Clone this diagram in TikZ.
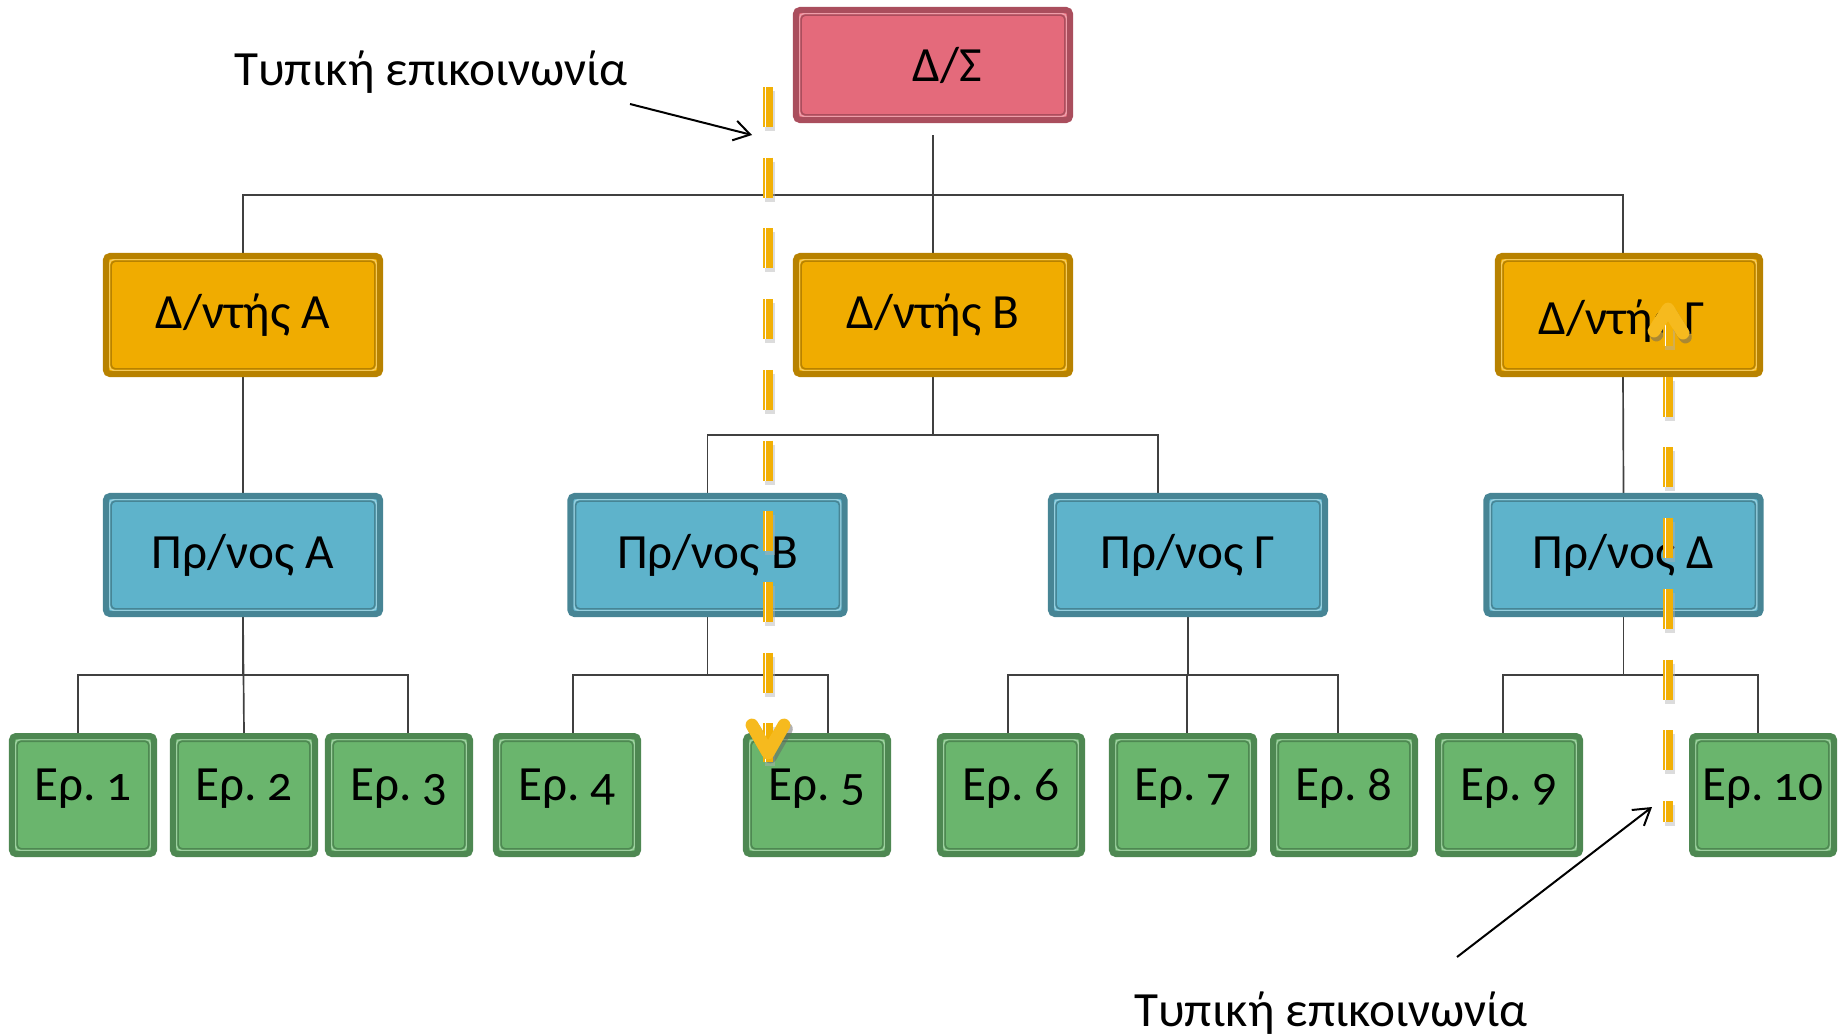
\documentclass[tikz,border=0pt]{standalone}
\usepackage{fontspec}
\setmainfont{Carlito}[Numbers=OldStyle]
\newfontfamily\erfont{Carlito}[Numbers=OldStyle, WordSpace=0.6]
\usetikzlibrary{arrows.meta,backgrounds}

\definecolor{redfill}{HTML}{E46A7B}
\definecolor{redline}{HTML}{AA4E5D}
\definecolor{orgfill}{HTML}{F0AC00}
\definecolor{orgline}{HTML}{B88200}
\definecolor{bluefill}{HTML}{5EB3CB}
\definecolor{blueline}{HTML}{478595}
\definecolor{grnfill}{HTML}{6AB56D}
\definecolor{grnline}{HTML}{4E8852}
\definecolor{flowc}{HTML}{F2B005}
\definecolor{chevc}{HTML}{F6BA1E}
\definecolor{treec}{HTML}{404040}

\tikzset{
  unit/.style 2 args={draw=#2, fill=#1, line width=1.5mm, rounded corners=1mm,
    inner sep=0pt, minimum width=68.5mm, minimum height=29.5mm,
    font=\fontsize{35}{40}\selectfont,
    path picture={
      \draw[#1!65!white, line width=0.35mm]
        ([shift={(0.92mm,0.92mm)}]path picture bounding box.south west) rectangle
        ([shift={(-0.92mm,-0.92mm)}]path picture bounding box.north east);
      \draw[#2, line width=0.4mm]
        ([shift={(1.3mm,1.3mm)}]path picture bounding box.south west) rectangle
        ([shift={(-1.3mm,-1.3mm)}]path picture bounding box.north east);
    }},
  redbox/.style={unit={redfill}{redline}, minimum height=27.5mm},
  orgbox/.style={unit={orgfill}{orgline}},
  bluebox/.style={unit={bluefill}{blueline}},
  grnbox/.style={unit={grnfill}{grnline}, minimum width=35.5mm,
    font=\erfont\fontsize{35}{40}\selectfont,
    text height=11.5pt, text depth=4.2pt},
  tree/.style={draw=treec, line width=0.42mm},
  flow/.style={draw=flowc, line width=2.5mm, dash pattern=on 10mm off 7.675mm},
  flowgap/.style={draw=white, line width=0.42mm, dash pattern=on 10mm off 7.675mm},
  flowshade/.style={draw=black!30, opacity=.45, line width=2.5mm, dash pattern=on 10mm off 7.675mm},
  chev/.style={draw=chevc, line width=3.2mm, line cap=round, line join=round},
  chevshade/.style={draw=black!60, opacity=.5, line width=3.2mm, line cap=round, line join=round},
  tag/.style={inner sep=0pt, font=\fontsize{35}{40}\selectfont},
  note/.style={draw=black, line width=0.5mm, -{Straight Barb[length=4mm,width=5mm,line width=0.5mm]}}
}

\begin{document}
\begin{tikzpicture}[x=0.025cm, y=-0.025cm]
\useasboundingbox (0,0) rectangle (1845,1035);

% board
\node[redbox] (ds) at (933,65) {\hspace*{7mm}Δ/Σ};

% directors
\node[orgbox] (dA) at (243,315) {Δ/ντής A};
\node[orgbox] (dB) at (933,315) {Δ/ντής B};
\node[orgbox, minimum width=65.5mm, text height=30pt, text depth=2pt] (dC) at (1629,315) {Δ/ντής Γ\hspace*{3.5mm}};

% heads
\node[bluebox] (pA) at (243,555) {Πρ/νος A};
\node[bluebox] (pB) at (707.5,555) {Πρ/νος B};
\node[bluebox] (pC) at (1188,555) {Πρ/νος Γ};
\node[bluebox] (pD) at (1623.5,555) {Πρ/νος Δ};

% staff
\node[grnbox] (e1) at (83,795) {Ερ. 1};
\node[grnbox] (e2) at (244,795) {Ερ. 2};
\node[grnbox] (e3) at (399,795) {Ερ. 3};
\node[grnbox] (e4) at (567,795) {Ερ. 4};
\node[grnbox] (e5) at (817,795) {Ερ. 5};
\node[grnbox] (e6) at (1011,795) {Ερ. 6};
\node[grnbox] (e7) at (1183,795) {Ερ. 7};
\node[grnbox] (e8) at (1344,795) {Ερ. 8};
\node[grnbox] (e9) at (1509,795) {Ερ. 9};
\node[grnbox] (e10) at (1763,795) {Ερ. 10};

\begin{scope}[on background layer]
\draw[tree] ([yshift=-3mm]ds.south) -- ++(0,60) -| (dA.north);
\draw[tree] ([yshift=-3mm]ds.south) -- ++(0,60) -| (dB.north);
\draw[tree] ([yshift=-3mm]ds.south) -- ++(0,60) -| ([xshift=-1.5mm]dC.north);

\draw[tree] (dA.south) -- (pA.north);
\draw[tree] (dB.south) -- ++(0,58) -| (pB.north);
\draw[tree] (dB.south) -- ++(0,58) -| ([xshift=-7.5mm]pC.north);
\draw[tree] ([xshift=-1.5mm]dC.south) -- (pD.north);

\draw[tree] (pA.south) -- ++(0,58) -| ([xshift=-1.25mm]e1.north);
\draw[tree] (pA.south) -- (e2.north);
\draw[tree] (pA.south) -- ++(0,58) -| ([xshift=2.25mm]e3.north);
\draw[tree] (pB.south) -- ++(0,58) -| ([xshift=1.5mm]e4.north);
\draw[tree] (pB.south) -- ++(0,58) -| ([xshift=2.75mm]e5.north);
\draw[tree] (pC.south) -- ++(0,58) -| ([xshift=-0.75mm]e6.north);
\draw[tree] (pC.south) -- ++(0,58) -| ([xshift=1mm]e7.north);
\draw[tree] (pC.south) -- ++(0,58) -| ([xshift=-1.5mm]e8.north);
\draw[tree] (pD.south) -- ++(0,58) -| ([xshift=-1.5mm]e9.north);
\draw[tree] (pD.south) -- ++(0,58) -| ([xshift=-1.25mm]e10.north);
\end{scope}

% formal communication flows
\coordinate (fa) at (768,87);
\coordinate (fb) at (768,762);
\coordinate (ga) at (1668,306);
\coordinate (gb) at (1668,822);

\begin{scope}[transform canvas={shift={(0.6mm,-1mm)}}]
\draw[flowshade] (fa) -- (fb);
\draw[flowshade] (ga) -- (gb);
\draw[chevshade] (752,725) -- (768,753) -- (784,725);
\draw[chevshade] (1654,331) -- (1668,309) -- (1683,333);
\end{scope}
\draw[flow] (fa) -- (fb);
\draw[flow] (ga) -- (gb);
\begin{scope}[transform canvas={shift={(-0.62mm,0)}}]
\draw[flowgap] (fa) -- (fb);
\draw[flowgap] (ga) -- (gb);
\end{scope}
\draw[chev] (752,725) -- (768,753) -- (784,725);
\draw[chev] (1654,331) -- (1668,309) -- (1683,333);

% labels
\node[tag, anchor=base] (lab1) at (431,85) {Τυπική επικοινωνία};
\node[tag, anchor=base] (lab2) at (1331,1026) {Τυπική επικοινωνία};
\coordinate (t1) at (752,135);
\coordinate (t2) at (1652,807);
\draw[note] ([shift={(0.5mm,-4.75mm)}]lab1.base east) -- (t1);
\draw[note] ([shift={(31.5mm,17.25mm)}]lab2.base) -- (t2);
\end{tikzpicture}
\end{document}
